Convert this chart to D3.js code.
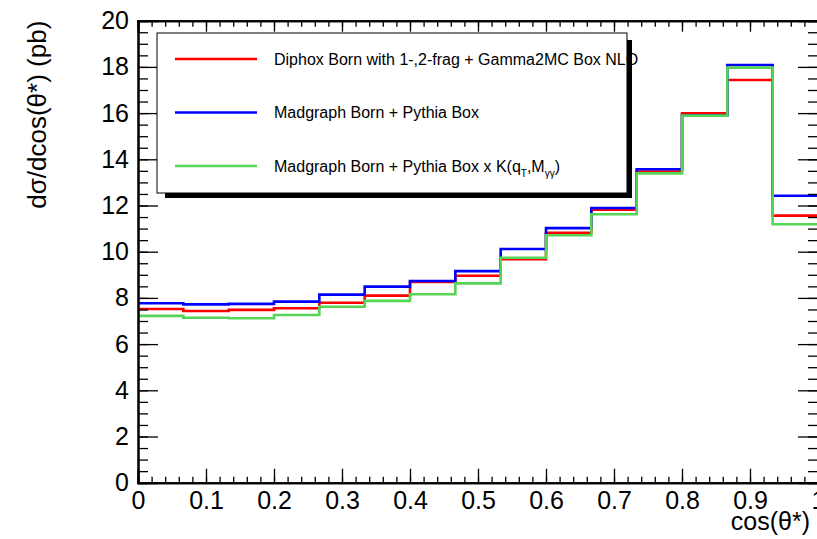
<!DOCTYPE html>
<html>
<head>
<meta charset="utf-8">
<script src="https://cdn.jsdelivr.net/npm/d3@7"></script>
<style>
  body { margin: 0; background: #fff; }
  svg { display: block; overflow: hidden; }
  text { font-family: "Liberation Sans", Helvetica, Arial, sans-serif; fill: #000; }
</style>
</head>
<body>
<div id="chart-area"></div>
<script>
// bin edges of cos(theta*) : 15 bins from 0 to 1
const binEdges = d3.range(16).map(i => i / 15)

const diphox   = [7.52, 7.43, 7.48, 7.55, 7.79, 8.10, 8.69, 8.96, 9.67, 10.82, 11.82, 13.47, 15.99, 17.43, 11.56]
const madgraph = [7.77, 7.72, 7.74, 7.84, 8.14, 8.49, 8.73, 9.16, 10.12, 11.02, 11.89, 13.57, 15.90, 18.08, 12.42]
const madgraphK = [7.22, 7.14, 7.12, 7.26, 7.62, 7.87, 8.16, 8.63, 9.74, 10.71, 11.62, 13.39, 15.89, 17.97, 11.19]

const xTicks = [0, 0.1, 0.2, 0.3, 0.4, 0.5, 0.6, 0.7, 0.8, 0.9, 1]
const yTicks = [0, 2, 4, 6, 8, 10, 12, 14, 16, 18, 20]

const series = [
  { name: "Diphox Born with 1-,2-frag + Gamma2MC Box NLO", values: diphox, color: "#ff0000" },
  { name: "Madgraph Born + Pythia Box", values: madgraph, color: "#0000ff" },
  { name: "Madgraph Born + Pythia Box x K", values: madgraphK, color: "#55d455" }
]

const W = 817, H = 539
const MARGIN = { LEFT: 138, RIGHT: -1, TOP: 20.7, BOTTOM: 56.3 }
const WIDTH = W - MARGIN.LEFT - MARGIN.RIGHT
const HEIGHT = H - MARGIN.TOP - MARGIN.BOTTOM

const svg = d3.select("#chart-area").append("svg")
  .attr("width", W)
  .attr("height", H)

const g = svg.append("g")
  .attr("transform", `translate(${MARGIN.LEFT}, ${MARGIN.TOP})`)

const x = d3.scaleLinear().domain([0, 1]).range([0, WIDTH])
const y = d3.scaleLinear().domain([0, 20]).range([HEIGHT, 0])

// histograms
const line = d3.line()
  .x(d => x(d[0]))
  .y(d => y(d[1]))
  .curve(d3.curveStepAfter)

series.forEach(s => {
  const pts = s.values.map((v, i) => [binEdges[i], v])
  pts.push([1, s.values[s.values.length - 1]])
  g.append("path")
    .attr("d", line(pts))
    .attr("fill", "none")
    .attr("stroke", s.color)
    .attr("stroke-width", 2.6)
})

// minor ticks
const xMinor = d3.range(0, 51).map(i => i / 50)
const yMinor = d3.range(0, 41).map(i => i / 2)

// bottom axis
g.append("g")
  .attr("transform", `translate(0, ${HEIGHT})`)
  .call(d3.axisBottom(x).tickValues(xMinor).tickSize(-6).tickFormat(""))
g.append("g")
  .attr("class", "x axis")
  .attr("transform", `translate(0, ${HEIGHT})`)
  .call(d3.axisBottom(x).tickValues(xTicks).tickSize(-14).tickPadding(9).tickFormat(d => d === 0 ? "0" : d3.format("")(d)))
  .call(a => a.selectAll("text").attr("font-size", "25px").attr("font-family", null))

// top axis
g.append("g")
  .call(d3.axisTop(x).tickValues(xMinor).tickSize(-6).tickFormat(""))
g.append("g")
  .call(d3.axisTop(x).tickValues(xTicks).tickSize(-11).tickFormat(""))

// left axis
g.append("g")
  .call(d3.axisLeft(y).tickValues(yMinor).tickSize(-10).tickFormat(""))
g.append("g")
  .attr("class", "y axis")
  .call(d3.axisLeft(y).tickValues(yTicks).tickSize(-20).tickFormat(d3.format("d")))
  .call(a => a.selectAll("text").attr("font-size", "25px").attr("font-family", null).attr("x", -9))

// right axis
g.append("g")
  .attr("transform", `translate(${WIDTH}, 0)`)
  .call(d3.axisRight(y).tickValues(yMinor).tickSize(-10).tickFormat(""))
g.append("g")
  .attr("transform", `translate(${WIDTH}, 0)`)
  .call(d3.axisRight(y).tickValues(yTicks).tickSize(-20).tickFormat(""))

g.selectAll(".domain").attr("stroke", "#000").attr("stroke-width", 2)
g.selectAll(".tick line").attr("stroke", "#000").attr("stroke-width", 1.3)

// X label
g.append("text")
  .attr("x", 672)
  .attr("y", HEIGHT + 47)
  .attr("font-size", "25px")
  .attr("text-anchor", "end")
  .text("cos(θ*)")

// Y label
g.append("text")
  .attr("transform", "rotate(-90)")
  .attr("x", 0)
  .attr("y", -92)
  .attr("font-size", "26px")
  .attr("text-anchor", "end")
  .text("dσ/dcos(θ*) (pb)")

// legend
const leg = svg.append("g")
leg.append("rect")
  .attr("x", 165).attr("y", 40).attr("width", 467).attr("height", 158)
  .attr("fill", "#000")
leg.append("rect")
  .attr("x", 157).attr("y", 33).attr("width", 470).attr("height", 160)
  .attr("fill", "#fff").attr("stroke", "#000").attr("stroke-width", 1)

const rowY = [59, 112.5, 166]
series.forEach((s, i) => {
  leg.append("line")
    .attr("x1", 175).attr("x2", 257)
    .attr("y1", rowY[i]).attr("y2", rowY[i])
    .attr("stroke", s.color).attr("stroke-width", 2.6)
  const t = leg.append("text")
    .attr("x", 274).attr("y", rowY[i] + 5.5)
    .attr("font-size", "16px")
    .text(s.name)
  if (i === 2) {
    t.append("tspan").text("(q")
    t.append("tspan").attr("font-size", "10px").attr("dy", 5).text("T")
    t.append("tspan").attr("dy", -5).text(",M")
    t.append("tspan").attr("font-size", "10px").attr("dy", 5).text("γγ")
    t.append("tspan").attr("dy", -5).text(")")
  }
})
</script>
</body>
</html>
